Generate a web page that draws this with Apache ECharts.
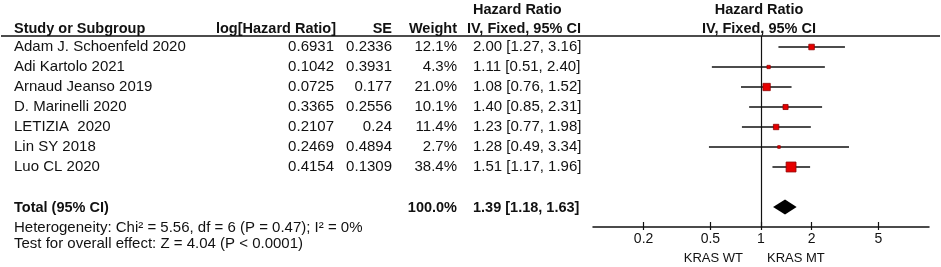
<!DOCTYPE html>
<html lang="en">
<head>
    <meta charset="UTF-8">
    <title>Forest plot</title>
    <script src="https://cdn.jsdelivr.net/npm/echarts@6/dist/echarts.min.js"></script>
</head>
<style>
    body{
        margin: 0;
        padding: 0;
        background: #fff;
    }
</style>
<body>
<div id="main" style="width: 941px;height:267px;"></div>
<script>
    // study rows
    var studies = ['Adam J. Schoenfeld 2020', 'Adi Kartolo 2021', 'Arnaud Jeanso 2019', 'D. Marinelli 2020', 'LETIZIA  2020', 'Lin SY 2018', 'Luo CL 2020'];
    var logHR = ['0.6931', '0.1042', '0.0725', '0.3365', '0.2107', '0.2469', '0.4154'];
    var se = ['0.2336', '0.3931', '0.177', '0.2556', '0.24', '0.4894', '0.1309'];
    var weight = [12.1, 4.3, 21.0, 10.1, 11.4, 2.7, 38.4];
    var hr = [2.00, 1.11, 1.08, 1.40, 1.23, 1.28, 1.51];
    var lower = [1.27, 0.51, 0.76, 0.85, 0.77, 0.49, 1.17];
    var upper = [3.16, 2.40, 1.52, 2.31, 1.98, 3.34, 1.96];
    // pooled estimate: hr, lower, upper, weight
    var total = [1.39, 1.18, 1.63, 100.0];
    var axisTicks = [0.2, 0.5, 1, 2, 5];
    var heterogeneity = 'Heterogeneity: Chi² = 5.56, df = 6 (P = 0.47); I² = 0%';
    var overall = 'Test for overall effect: Z = 4.04 (P < 0.0001)';

    var FAMILY = '"Liberation Sans", Arial, sans-serif';
    var FONT = '15px ' + FAMILY;
    var SMALL = '13px ' + FAMILY;
    var BOLD = 'bold 14.5px ' + FAMILY;
    var TOTAL_ROW = 8;

    function fmtCI(h, l, u) {
        return h.toFixed(2) + ' [' + l.toFixed(2) + ', ' + u.toFixed(2) + ']';
    }
    function txt(text, x, y, align, font) {
        return {
            type: 'text',
            x: x, y: y,
            style: {text: text, font: font || FONT, fill: '#111', align: align || 'left', verticalAlign: 'middle'}
        };
    }

    var rows = [];
    for (var i = 0; i < studies.length; i++) {
        rows.push([hr[i], lower[i], upper[i], i, weight[i]]);
    }

    var chart = echarts.init(document.getElementById('main'));
    var option = {
        animation: false,
        grid: {left: 593, width: 336, top: 36, height: 191},
        xAxis: [{
            type: 'log',
            logBase: 10,
            min: 0.1,
            max: 10,
            axisLine: {onZero: false, lineStyle: {color: '#111', width: 1.5}},
            axisTick: {inside: true, length: 5, customValues: axisTicks, lineStyle: {color: '#111', width: 1.2}},
            axisLabel: {
                customValues: axisTicks,
                margin: 5,
                color: '#111',
                fontSize: 14,
                fontFamily: FAMILY,
                formatter: function (v) { return String(v); }
            },
            splitLine: {show: false}
        }, {
            type: 'log',
            logBase: 10,
            min: 0.1,
            max: 10,
            position: 'bottom',
            axisLine: {show: false, onZero: false},
            axisTick: {inside: false, length: 3, customValues: axisTicks, lineStyle: {color: '#111', width: 1.2}},
            axisLabel: {show: false},
            splitLine: {show: false}
        }],
        yAxis: {
            type: 'value',
            inverse: true,
            min: -0.55,
            max: 9,
            show: false
        },
        graphic: [
            {type: 'line', shape: {x1: 1, y1: 36, x2: 940, y2: 36}, style: {stroke: '#111', lineWidth: 1.5}},
            txt('Study or Subgroup', 14, 29, 'left', BOLD),
            txt('log[Hazard Ratio]', 336, 29, 'right', BOLD),
            txt('SE', 392, 29, 'right', BOLD),
            txt('Weight', 457, 29, 'right', BOLD),
            txt('Hazard Ratio', 473, 10, 'left', BOLD),
            txt('IV, Fixed, 95% CI', 467, 29, 'left', BOLD),
            txt('Hazard Ratio', 759, 10, 'center', BOLD),
            txt('IV, Fixed, 95% CI', 759, 29, 'center', BOLD)
        ],
        series: [
            {
                // table columns for each study
                type: 'custom',
                clip: false,
                silent: true,
                encode: {x: 0, y: 3},
                data: rows,
                renderItem: function (params, api) {
                    var k = params.dataIndex;
                    var y = api.coord([1, api.value(3)])[1];
                    return {
                        type: 'group',
                        children: [
                            txt(studies[k], 14, y, 'left'),
                            txt(logHR[k], 334, y, 'right'),
                            txt(se[k], 392, y, 'right'),
                            txt(weight[k].toFixed(1) + '%', 457, y, 'right'),
                            txt(fmtCI(hr[k], lower[k], upper[k]), 473, y, 'left')
                        ]
                    };
                }
            },
            {
                // CI whiskers + weighted squares
                type: 'custom',
                clip: false,
                encode: {x: [0, 1, 2], y: 3},
                data: rows,
                renderItem: function (params, api) {
                    var row = api.value(3);
                    var pLo = api.coord([api.value(1), row]);
                    var pHi = api.coord([api.value(2), row]);
                    var pMid = api.coord([api.value(0), row]);
                    var s = 1.6 * Math.sqrt(api.value(4));
                    return {
                        type: 'group',
                        children: [
                            {type: 'line', shape: {x1: pLo[0], y1: pLo[1], x2: pHi[0], y2: pHi[1]},
                                style: {stroke: '#111', lineWidth: 1.4}},
                            {type: 'rect', shape: {x: pMid[0] - s / 2, y: pMid[1] - s / 2, width: s, height: s},
                                style: {fill: '#e60000', stroke: '#900000', lineWidth: 0.8}}
                        ]
                    };
                },
                markLine: {
                    silent: true,
                    symbol: 'none',
                    label: {show: false},
                    lineStyle: {color: '#111', width: 1.2, type: 'solid'},
                    data: [{xAxis: 1}]
                }
            },
            {
                // pooled estimate
                type: 'custom',
                clip: false,
                encode: {x: [0, 1, 2], y: 4},
                data: [[total[0], total[1], total[2], total[3], TOTAL_ROW]],
                renderItem: function (params, api) {
                    var row = api.value(4);
                    var pLo = api.coord([api.value(1), row]);
                    var pHi = api.coord([api.value(2), row]);
                    var pMid = api.coord([api.value(0), row]);
                    var y = pMid[1];
                    var xOne = api.coord([1, 9])[0];
                    var yAxisBottom = api.coord([1, 9])[1];
                    return {
                        type: 'group',
                        children: [
                            {type: 'polygon', shape: {points: [[pLo[0], y], [pMid[0], y - 7.5], [pHi[0], y], [pMid[0], y + 7.5]]},
                                style: {fill: '#000'}},
                            txt('Total (95% CI)', 14, y + 1, 'left', BOLD),
                            txt(api.value(3).toFixed(1) + '%', 457, y + 1, 'right', BOLD),
                            txt(fmtCI(total[0], total[1], total[2]), 473, y + 1, 'left', BOLD),
                            txt(heterogeneity, 14, yAxisBottom + 1, 'left'),
                            txt(overall, 14, yAxisBottom + 17, 'left'),
                            txt('KRAS WT', xOne - 18, yAxisBottom + 31, 'right', SMALL),
                            txt('KRAS MT', xOne + 6, yAxisBottom + 31, 'left', SMALL)
                        ]
                    };
                }
            }
        ]
    };
    chart.setOption(option);
</script>
</body>
</html>
